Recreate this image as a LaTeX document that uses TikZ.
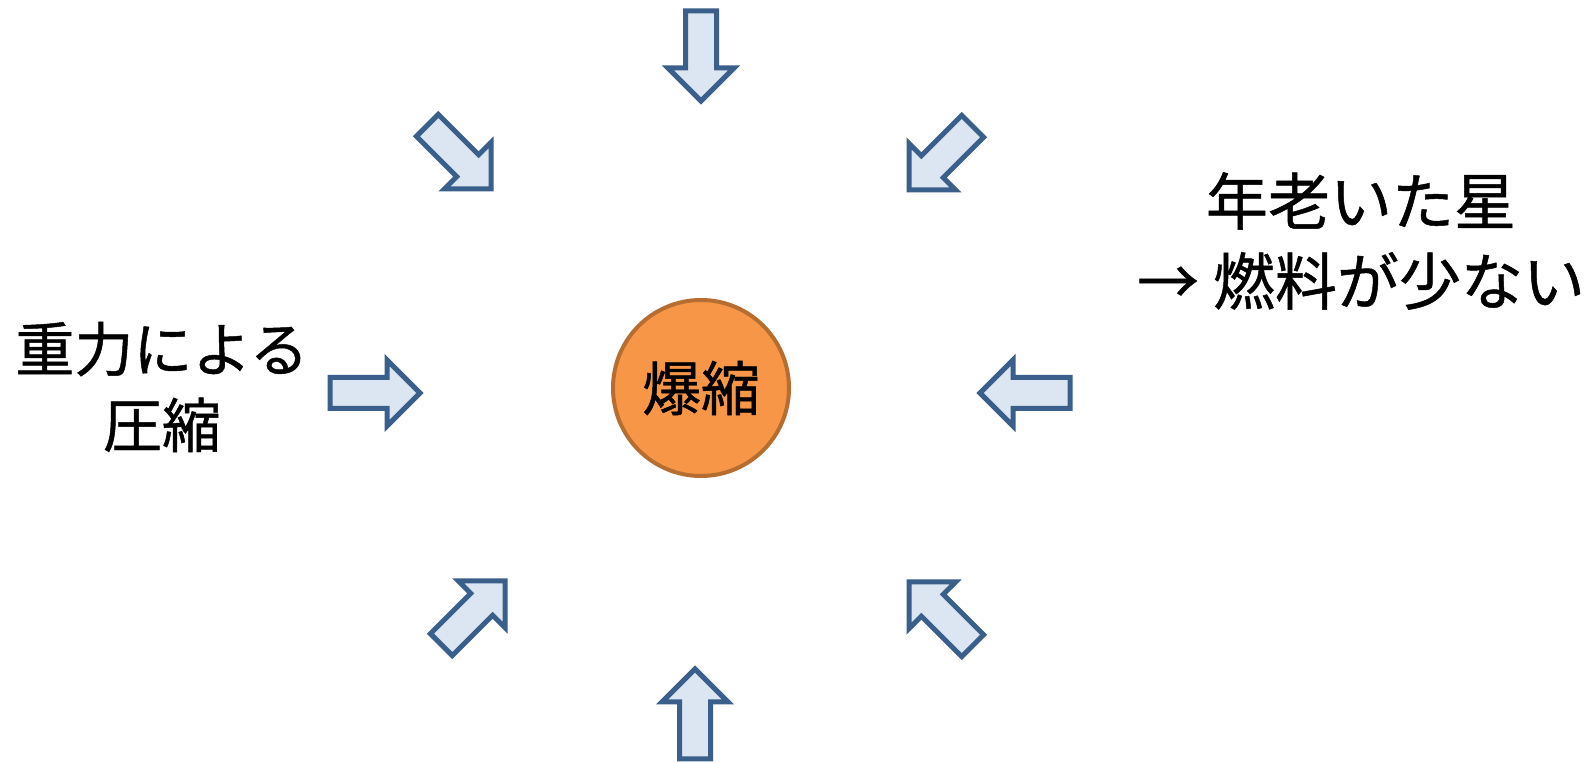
\documentclass[tikz,border=0pt]{standalone}
\usepackage{fontspec}
\setmainfont{Noto Sans CJK JP}[FakeBold=0.8]
\definecolor{arrowline}{HTML}{3A5F8B}
\definecolor{arrowfill}{HTML}{DCE6F2}
\definecolor{starfill}{HTML}{F79646}
\definecolor{starline}{HTML}{B66D31}
\tikzset{
  blockarrow/.style={draw=arrowline, fill=arrowfill, line width=5pt, line join=miter, miter limit=10},
}
\newcommand\blockarr[3]{%
  \draw[blockarrow, shift={(#1,#2)}, rotate=#3]
    (0,0) -- (-33,33) -- (-33,15.5) -- (-90,15.5) -- (-90,-15.5) -- (-33,-15.5) -- (-33,-33) -- cycle;}
\begin{document}
\begin{tikzpicture}[x=1pt,y=1pt]
\useasboundingbox[fill=white] (0,0) rectangle (1596,763);
\blockarr{701}{662}{-90}
\blockarr{491}{574}{-45}
\blockarr{909}{573}{-135}
\blockarr{420}{370}{0}
\blockarr{980}{370}{180}
\blockarr{505}{182}{45}
\blockarr{909}{181}{135}
\blockarr{695}{94}{90}
\node[circle, draw=starline, fill=starfill, line width=4pt, minimum size=176pt, inner sep=0pt,
  font=\fontsize{59}{60}\selectfont] (star) at (701,375) {爆縮};
\node[align=center, font=\fontsize{59}{76}\selectfont] (gravity) at (162,376) {重力による\\圧縮};
\node[align=center, font=\fontsize{62}{80}\selectfont] (oldstar) at (1361,522) {年老いた星\\→ 燃料が少ない};
\end{tikzpicture}
\end{document}
